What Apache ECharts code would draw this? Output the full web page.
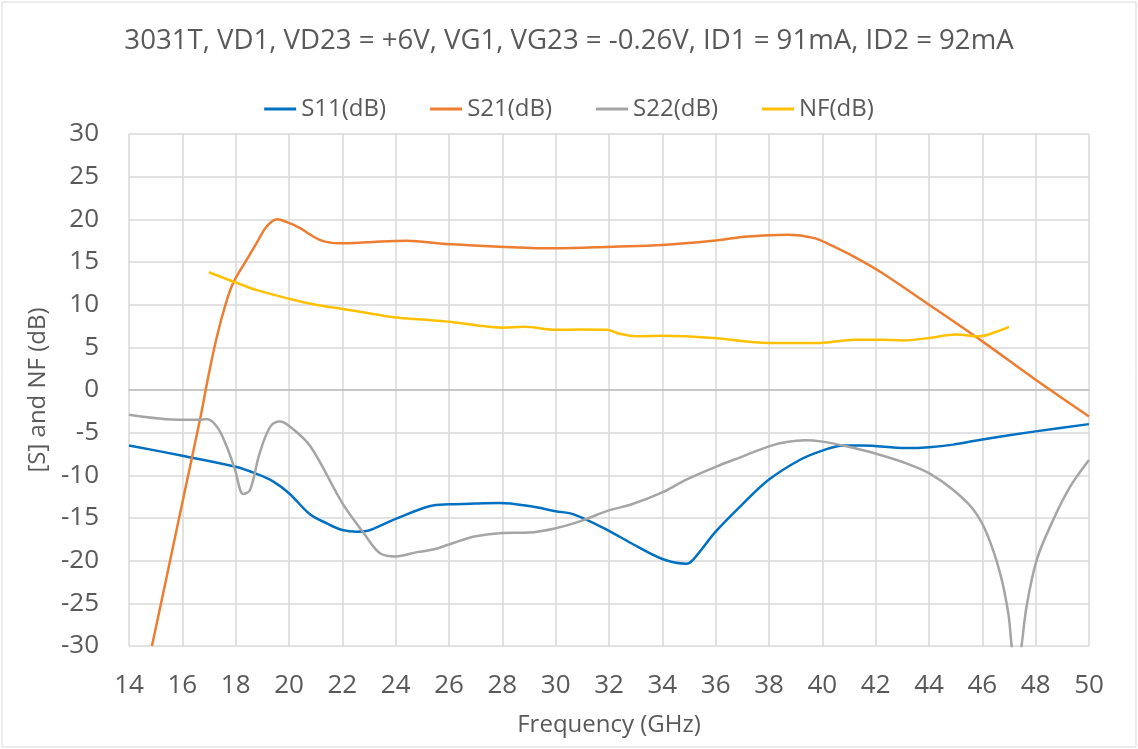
<!DOCTYPE html>
<html>
<head>
<meta charset="utf-8">
<script src="https://cdn.jsdelivr.net/npm/echarts@6/dist/echarts.min.js"></script>
<style>
  html, body { margin: 0; padding: 0; background: #fff; }
  #chart { width: 1138px; height: 749px; }
</style>
</head>
<body>
<div id="chart"></div>
<script>
// values: [frequency GHz, dB]
const s11 = [
  [14, -6.5], [16, -7.7], [18, -9.0], [18.8, -9.85], [19.4, -10.7], [20, -12.1],
  [20.8, -14.6], [21.4, -15.6], [22, -16.4], [22.55, -16.6], [23.05, -16.4], [24, -15.1],
  [25.3, -13.6], [26, -13.4], [27, -13.3], [27.9, -13.25], [29, -13.6], [30, -14.2],
  [30.7, -14.6], [32, -16.5], [32.8, -17.9], [34, -19.8], [34.9, -20.35], [35.15, -19.9],
  [36, -16.6], [37, -13.4], [38, -10.5], [39.15, -8.2], [40, -7.1], [40.8, -6.5],
  [41.5, -6.5], [43.15, -6.8], [44, -6.7], [44.9, -6.4], [46, -5.8], [48, -4.85], [50, -4.0]
];
const s21 = [
  [14.86, -30], [15.5, -20.6], [16, -13.2], [16.66, -3.5], [17, 2], [17.3, 6.3],
  [17.6, 9.8], [17.9, 12.5], [18.4, 15.2], [18.8, 17.3], [19.15, 19.1], [19.55, 20.0],
  [19.9, 19.7], [20.4, 19.0], [20.8, 18.2], [21.15, 17.6], [21.5, 17.3], [21.9, 17.2],
  [22.9, 17.3], [24.4, 17.5], [25.9, 17.1], [27.9, 16.8], [30, 16.6], [32.15, 16.8],
  [34, 17.0], [35.9, 17.5], [37.2, 18.0], [38.7, 18.2], [39.7, 17.8], [40.3, 17.0],
  [41.2, 15.6], [42.2, 13.8], [44, 10.0], [46, 5.7], [48, 1.2], [50, -3.1]
];
const s22 = [
  [14, -2.9], [16, -3.5], [16.66, -3.5], [16.9, -3.4], [17.3, -4.3], [17.66, -6.6],
  [17.97, -9.3], [18.29, -12.2], [18.54, -11.7], [18.9, -7.4], [19.3, -4.3], [19.66, -3.7],
  [20.04, -4.3], [20.8, -6.6], [22, -13.25], [22.8, -16.75], [23.4, -19.1], [24, -19.5],
  [24.8, -19.0], [25.4, -18.7], [26, -18.1], [27, -17.15], [28, -16.75], [29, -16.7],
  [30, -16.2], [30.9, -15.4], [32, -14.1], [32.8, -13.45], [34, -12.0], [34.9, -10.5],
  [36, -9.0], [37, -7.8], [38, -6.6], [38.66, -6.1], [39.35, -5.9], [40, -6.05],
  [40.9, -6.6], [42.05, -7.5], [43.15, -8.6], [44, -9.75], [44.9, -11.7], [45.66, -14.0],
  [46.16, -16.75], [46.66, -21.4], [46.97, -26.1], [47.1, -30], [47.28, -34],
  [47.47, -30], [47.66, -25.35], [48.04, -19.9], [48.66, -15.2], [49.3, -11.3], [50, -8.2]
];
const nf = [
  [17, 13.8], [18, 12.6], [18.8, 11.7], [20, 10.7], [21, 10.0], [22, 9.5], [23, 9.0],
  [24, 8.5], [25, 8.25], [26, 8.0], [27, 7.6], [28, 7.3], [28.8, 7.4], [30, 7.05],
  [30.9, 7.1], [31.9, 7.05], [32.4, 6.6], [33, 6.3], [34, 6.35], [35.9, 6.1], [38, 5.5],
  [39.9, 5.5], [41.2, 5.9], [42.2, 5.9], [43, 5.8], [44, 6.1], [45, 6.5], [45.9, 6.3],
  [46.5, 6.8], [47, 7.4]
];

const seriesNames = ['S11(dB)', 'S21(dB)', 'S22(dB)', 'NF(dB)'];
const seriesColors = ['#0070C0', '#ED7D31', '#A5A5A5', '#FFC000'];
const seriesData = [s11, s21, s22, nf];

const font = 'Open Sans';
const textColor = '#595959';

const chart = echarts.init(document.getElementById('chart'));

const option = {
  animation: false,
  color: seriesColors,
  title: {
    text: '3031T, VD1, VD23 = +6V, VG1, VG23 = -0.26V, ID1 = 91mA, ID2 = 92mA',
    left: 'center',
    top: 22,
    textStyle: { color: textColor, fontSize: 27.6, fontWeight: 'normal', fontFamily: font }
  },
  legend: {
    data: seriesNames,
    top: 92,
    left: 'center',
    itemWidth: 32,
    itemHeight: 3,
    itemGap: 44,
    icon: 'rect',
    textStyle: { color: textColor, fontSize: 24, fontFamily: font }
  },
  grid: {
    left: 129,
    right: 49,
    top: 134,
    bottom: 103
  },
  xAxis: {
    type: 'value',
    min: 14,
    max: 50,
    interval: 2,
    name: 'Frequency (GHz)',
    nameLocation: 'middle',
    nameGap: 67,
    nameTextStyle: { color: textColor, fontSize: 24, fontFamily: font },
    axisLine: { show: true, lineStyle: { color: '#bfbfbf', width: 1.5 } },
    axisTick: { show: false },
    axisLabel: { color: textColor, fontSize: 26, fontFamily: font, margin: 27 },
    splitLine: { show: true, lineStyle: { color: '#d9d9d9', width: 1.5 } }
  },
  yAxis: {
    type: 'value',
    min: -30,
    max: 30,
    interval: 5,
    name: '[S] and NF (dB)',
    nameLocation: 'middle',
    nameGap: 76,
    nameTextStyle: { color: textColor, fontSize: 24, fontFamily: font },
    axisLine: { show: false },
    axisTick: { show: false },
    axisLabel: { color: textColor, fontSize: 26, fontFamily: font, margin: 30 },
    splitLine: { show: true, lineStyle: { color: '#d9d9d9', width: 1.5 } }
  },
  series: seriesData.map((d, i) => ({
    name: seriesNames[i],
    type: 'line',
    data: d,
    smooth: 0.35,
    showSymbol: false,
    clip: true,
    lineStyle: { width: 2.5, color: seriesColors[i] }
  })),
  graphic: [{
    type: 'rect',
    shape: { x: 2, y: 2, width: 1134, height: 745 },
    style: { fill: 'none', stroke: '#d9d9d9', lineWidth: 1 },
    silent: true
  }]
};

chart.setOption(option);
</script>
</body>
</html>
